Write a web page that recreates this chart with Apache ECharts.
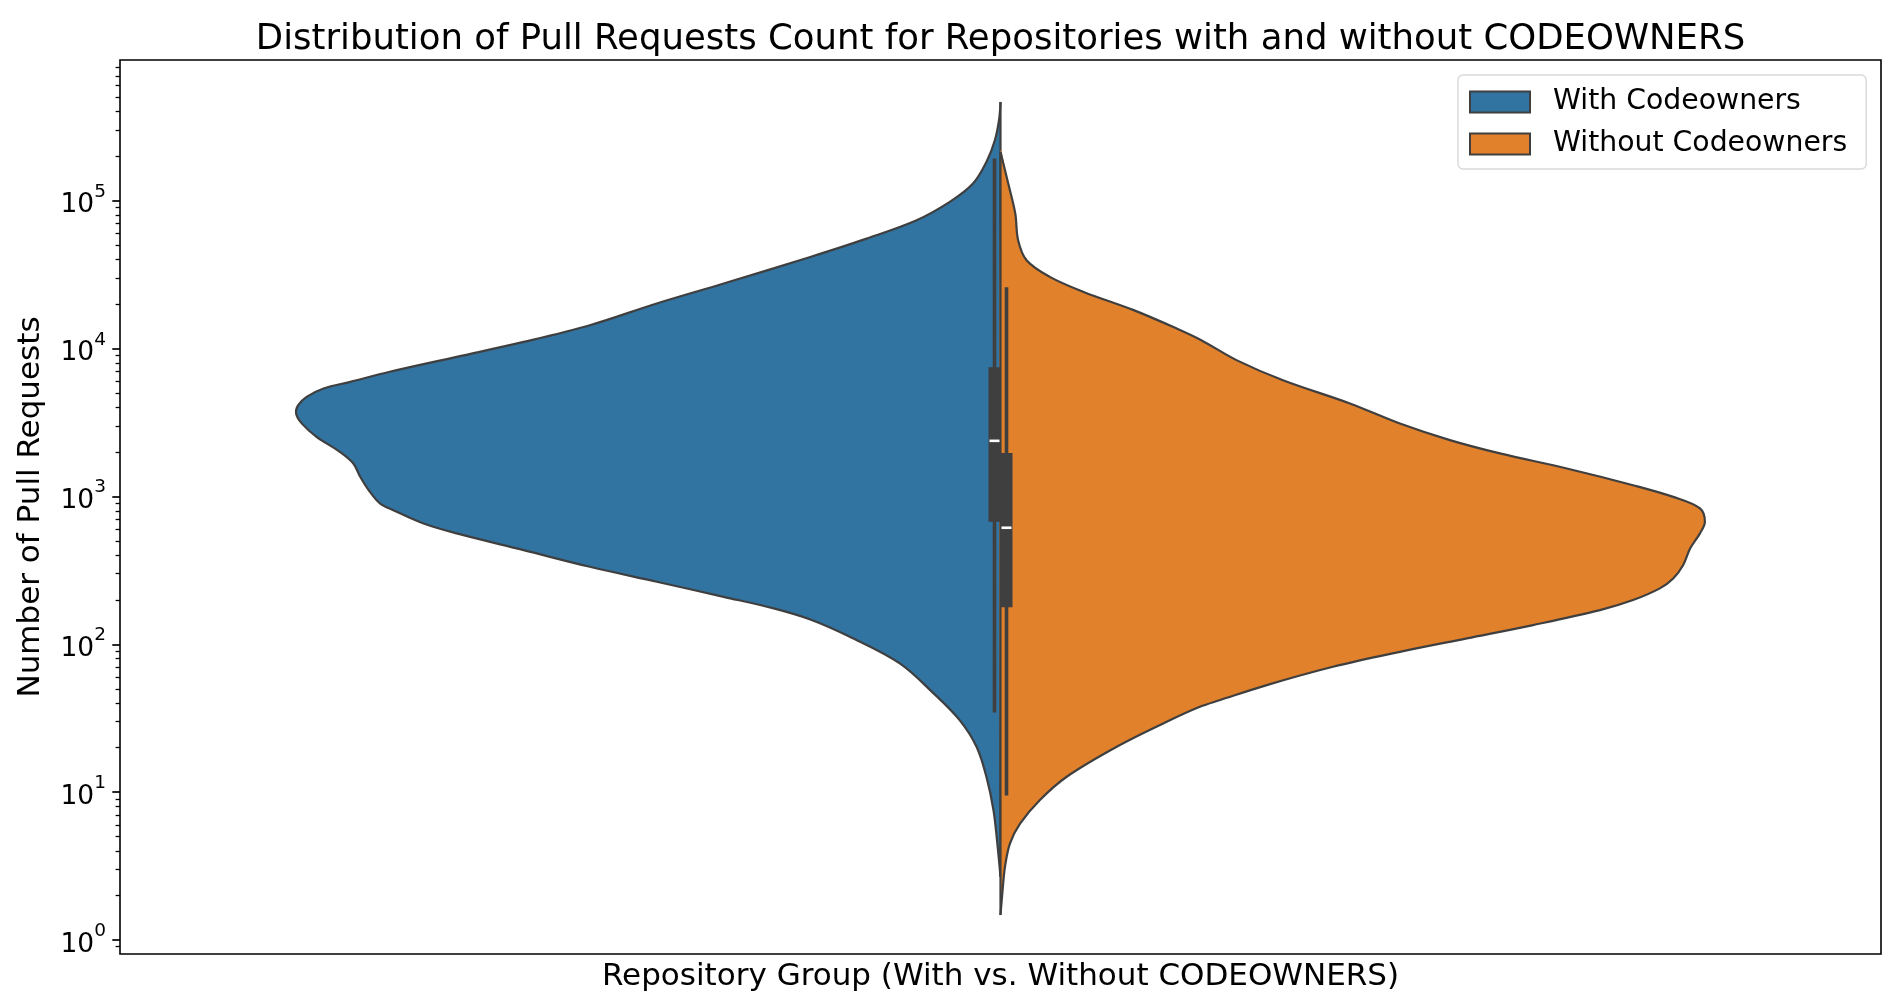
<!DOCTYPE html>
<html><head><meta charset="utf-8">
<script src="https://cdn.jsdelivr.net/npm/echarts@6/dist/echarts.min.js"></script>
<style>html,body{margin:0;padding:0;background:#fff}#c{width:1904px;height:1007px}</style>
</head><body><div id="c"></div>
<script>
// ---------------- data ----------------
const groups = ['With Codeowners', 'Without Codeowners'];
// KDE profile of log10(pull request count), relative density (1 = widest point)
const withLog = [5.668, 5.548, 5.409, 5.262, 5.116, 4.992, 4.868, 4.744, 4.620, 4.440, 4.305, 4.158, 4.045, 3.944, 3.843, 3.775, 3.730, 3.673, 3.617, 3.561, 3.494, 3.403, 3.302, 3.224, 3.133, 3.043, 2.953, 2.907, 2.817, 2.750, 2.637, 2.524, 2.423, 2.321, 2.243, 2.168, 2.051, 1.871, 1.668, 1.487, 1.307, 1.104, 0.879, 0.654, 0.428];
const withDensity = [0, 0.002, 0.008, 0.020, 0.039, 0.072, 0.119, 0.190, 0.270, 0.393, 0.488, 0.583, 0.677, 0.772, 0.867, 0.923, 0.961, 0.985, 0.997, 1.0, 0.992, 0.971, 0.938, 0.919, 0.909, 0.897, 0.881, 0.862, 0.819, 0.772, 0.677, 0.583, 0.488, 0.393, 0.322, 0.270, 0.214, 0.143, 0.095, 0.058, 0.034, 0.020, 0.010, 0.0045, 0];
const withoutLog = [5.330, 5.116, 4.913, 4.733, 4.598, 4.485, 4.383, 4.260, 4.136, 4.057, 3.922, 3.786, 3.629, 3.493, 3.381, 3.291, 3.189, 3.076, 2.997, 2.919, 2.828, 2.750, 2.648, 2.535, 2.445, 2.378, 2.299, 2.231, 2.130, 2.040, 1.949, 1.848, 1.724, 1.623, 1.577, 1.476, 1.307, 1.104, 0.947, 0.789, 0.654, 0.496, 0.338, 0.169];
const withoutDensity = [0, 0.011, 0.021, 0.025, 0.037, 0.070, 0.118, 0.189, 0.250, 0.285, 0.335, 0.401, 0.496, 0.567, 0.638, 0.709, 0.804, 0.898, 0.955, 0.993, 1.0, 0.993, 0.979, 0.969, 0.955, 0.936, 0.898, 0.851, 0.756, 0.662, 0.567, 0.472, 0.378, 0.312, 0.283, 0.236, 0.165, 0.094, 0.056, 0.028, 0.0135, 0.0064, 0.003, 0];
// inner box stats in pull-request counts: [whisker low, Q1, median, Q3, whisker high]
const withBox = [34.6, 673, 2377, 7480, 193000];
const withoutBox = [9.5, 178, 614, 1963, 26000];
// y axis (log10 scale)
const yTickExponents = [0, 1, 2, 3, 4, 5];
const yExtent = [-0.095, 5.952];

// ---------------- styling ----------------
const FONT = 'DejaVu Sans';
const COLORS = ['#3274a1', '#e1812c'];
const EDGE = '#3f3f3f';
const HALF_WIDTH = 0.4;

const minorTicks = [];
for (let n = -1; n <= 5; n++) for (let k = 2; k <= 9; k++) {
  const v = Math.log10(k * Math.pow(10, n));
  if (v > yExtent[0] && v < yExtent[1]) minorTicks.push(v);
}

function violinRender(logs, dens, side, color) {
  return function (params, api) {
    const outline = [];
    for (let i = 0; i < logs.length; i++) outline.push(api.coord([side * HALF_WIDTH * dens[i], logs[i]]));
    const top = api.coord([0, logs[0]]), bot = api.coord([0, logs[logs.length - 1]]);
    return { type: 'group', children: [
      { type: 'polygon', shape: { points: outline.slice(), smooth: 0.35 },
        style: { fill: color, stroke: null } },
      { type: 'polyline', shape: { points: outline, smooth: 0.35 },
        style: { fill: null, stroke: EDGE, lineWidth: 2.2, lineJoin: 'round' } },
      { type: 'line', shape: { x1: top[0], y1: top[1], x2: bot[0], y2: bot[1] },
        style: { stroke: EDGE, lineWidth: 2.2 } }
    ] };
  };
}
function boxRender(stats, side) {
  return function (params, api) {
    const L = stats.map(v => Math.log10(v));
    const cx = api.coord([0, L[2]])[0] + side * 6;
    const y = L.map(v => api.coord([0, v])[1]);
    return { type: 'group', children: [
      { type: 'rect', shape: { x: cx - 1.8, y: y[4], width: 3.6, height: y[0] - y[4] }, style: { fill: EDGE } },
      { type: 'rect', shape: { x: cx - 6, y: y[3], width: 12, height: y[1] - y[3] }, style: { fill: EDGE } },
      { type: 'line', shape: { x1: cx - 5, y1: y[2], x2: cx + 5, y2: y[2] }, style: { stroke: '#fff', lineWidth: 2.6 } }
    ] };
  };
}

const chart = echarts.init(document.getElementById('c'), null, { renderer: 'canvas' });
chart.setOption({
  backgroundColor: '#fff',
  animation: false,
  tooltip: { show: false },
  title: {
    text: 'Distribution of Pull Requests Count for Repositories with and without CODEOWNERS',
    left: 1000.5, top: 22, textAlign: 'center', padding: 0,
    textStyle: { fontFamily: FONT, fontSize: 35.5, fontWeight: 'normal', color: '#000', lineHeight: 36 }
  },
  legend: {
    data: [
      { name: groups[0], itemStyle: { color: COLORS[0], borderColor: EDGE, borderWidth: 2 } },
      { name: groups[1], itemStyle: { color: COLORS[1], borderColor: EDGE, borderWidth: 2 } }
    ],
    icon: 'rect', orient: 'vertical', left: 1458, top: 75, selectedMode: false,
    itemWidth: 60, itemHeight: 21, itemGap: 14, padding: [13, 19, 11, 11],
    backgroundColor: '#fff', borderColor: '#d9d9d9', borderWidth: 1.4, borderRadius: 5,
    textStyle: { fontFamily: FONT, fontSize: 28.3, color: '#000', padding: [0, 0, 0, 18] }
  },
  grid: { left: 120, right: 23, top: 60, bottom: 53, show: true, borderColor: '#000', borderWidth: 1.6, backgroundColor: 'transparent' },
  xAxis: {
    type: 'value', min: -0.5, max: 0.5,
    axisLine: { show: false, onZero: false }, axisTick: { show: false }, axisLabel: { show: false }, splitLine: { show: false },
    axisPointer: { show: false },
    name: 'Repository Group (With vs. Without CODEOWNERS)', nameLocation: 'middle', nameGap: 7,
    nameTextStyle: { fontFamily: FONT, fontSize: 31, color: '#000' }
  },
  yAxis: [{
    type: 'value', min: yExtent[0], max: yExtent[1], position: 'left',
    axisLine: { show: false, onZero: false }, splitLine: { show: false }, axisPointer: { show: false },
    axisTick: { show: true, length: 7.7, lineStyle: { color: '#000', width: 1.7 }, customValues: yTickExponents },
    axisLabel: {
      customValues: yTickExponents, margin: 14,
      formatter: v => '{b|10}{s|' + Math.round(v) + '}',
      rich: {
        b: { fontFamily: FONT, fontSize: 26.5, color: '#000', lineHeight: 36.7, verticalAlign: 'bottom' },
        s: { fontFamily: FONT, fontSize: 18.5, color: '#000', lineHeight: 18.5, verticalAlign: 'top' }
      }
    },
    name: 'Number of Pull Requests', nameLocation: 'middle', nameGap: 74,
    nameTextStyle: { fontFamily: FONT, fontSize: 31, color: '#000' }
  }, {
    type: 'value', min: yExtent[0], max: yExtent[1], position: 'left',
    axisLine: { show: false, onZero: false }, splitLine: { show: false }, axisLabel: { show: false }, axisPointer: { show: false },
    axisTick: { show: true, length: 4.4, lineStyle: { color: '#000', width: 1.3 }, customValues: minorTicks }
  }],
  series: [
    { type: 'custom', name: groups[0], coordinateSystem: 'cartesian2d', data: [[0, 5]], z: 2, silent: true,
      label: { show: false }, renderItem: violinRender(withLog, withDensity, -1, COLORS[0]) },
    { type: 'custom', name: groups[1], coordinateSystem: 'cartesian2d', data: [[0, 5]], z: 2, silent: true,
      label: { show: false }, renderItem: violinRender(withoutLog, withoutDensity, 1, COLORS[1]) },
    { type: 'custom', name: 'box-with', coordinateSystem: 'cartesian2d', data: [[0, 1]], z: 3, silent: true,
      label: { show: false }, renderItem: boxRender(withBox, -1) },
    { type: 'custom', name: 'box-without', coordinateSystem: 'cartesian2d', data: [[0, 1]], z: 3, silent: true,
      label: { show: false }, renderItem: boxRender(withoutBox, 1) }
  ]
});
</script></body></html>
